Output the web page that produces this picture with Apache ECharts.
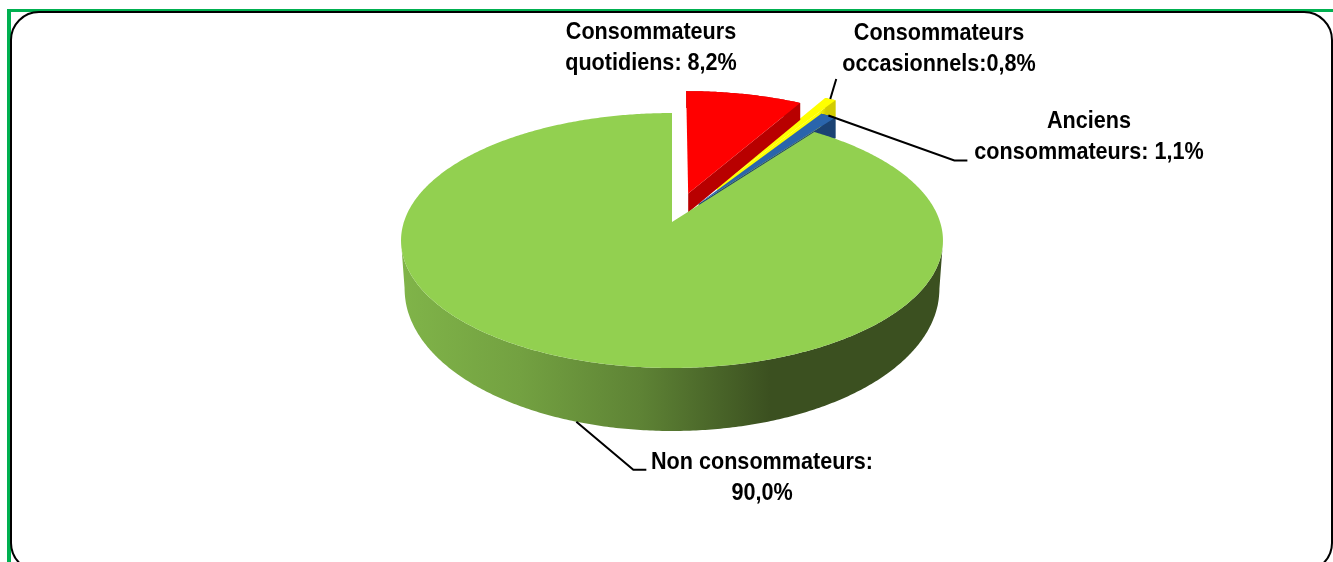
<!DOCTYPE html>
<html><head><meta charset="utf-8">
<style>html,body{margin:0;padding:0;background:#fff}#c{width:1333px;height:562px}</style>
<script src="https://cdn.jsdelivr.net/npm/echarts@6/dist/echarts.min.js"></script>
</head><body><div id="c"></div>
<script>
// --- data, clockwise from 12 o'clock
const categories = ['Consommateurs quotidiens', 'Consommateurs occasionnels', 'Anciens consommateurs', 'Non consommateurs'];
const values = [8.2, 0.8, 1.1, 90.0];
const labels = ['Consommateurs\nquotidiens: 8,2%', 'Consommateurs\noccasionnels:0,8%', 'Anciens\nconsommateurs: 1,1%', 'Non consommateurs:\n90,0%'];

// --- style & layout
const topColors = ['#FF0000', '#FFFF00', '#2A65AC', '#92D050'];
const wallColors = ['#B80000', '#D2CC00', '#1B4273', null];
const radialWallColors = ['#B80000', {type: 'linear', x: 0, y: 0, x2: 1, y2: 0, colorStops: [
  {offset: 0, color: '#FFFF00'}, {offset: 0.86, color: '#FFFF00'}, {offset: 0.92, color: '#D2CC00'}, {offset: 1, color: '#D2CC00'}]}, '#1B4273', null];
const explode = [0.245, 0.34, 0.18, 0];
const drawOrder = [2, 0, 1, 3];
const labelPos = [[651, 48], [939, 49], [1089, 137], [762, 478]];
const leaderOffsets = [null, [[6, -20]], [[126, 45], [139, 45]], [[57, 48], [70, 48]]];
const view = {cx: 672, cy: 222, A: 268.1, B: 124.8, p: 0.1451};
const apexDrop = 19;
const dropStops = [[-1, 63], [-0.25, 50], [0.6, 24], [0.805, 21], [0.87, 17], [1.2, 17]];
const baseShrink = 0.987;

function dropAt(c) {
  for (let i = 1; i < dropStops.length; i++) {
    if (c <= dropStops[i][0]) {
      const [a, b] = [dropStops[i - 1], dropStops[i]];
      return b[1] + (a[1] - b[1]) * (b[0] - c) / (b[0] - a[0]);
    }
  }
  return dropStops[dropStops.length - 1][1];
}
function project(X, Y) {
  const w = 1 + view.p * Y;
  return [view.cx + view.A * X / w, view.cy - view.B * Y / w];
}
const total = values.reduce((s, v) => s + v, 0);

function renderItem(params, api) {
  const i = params.dataIndex;
  const before = values.slice(0, i).reduce((s, v) => s + v, 0);
  const start = before / total * 2 * Math.PI;
  const sweep = api.value(0) / total * 2 * Math.PI;
  const end = start + sweep, mid = start + sweep / 2;
  const ox = explode[i] * Math.sin(mid), oy = explode[i] * Math.cos(mid);
  const rim = a => project(ox + Math.sin(a), oy + Math.cos(a));
  const apex = project(ox, oy);
  const down = (pt, d) => [pt[0], pt[1] + d];
  const rimDown = a => {
    const p = rim(a);
    const x = wallColors[i] ? p[0] : view.cx + (p[0] - view.cx) * baseShrink;
    return [x, p[1] + dropAt(Math.cos(a))];
  };
  const apexDown = down(apex, apexDrop);
  const steps = Math.max(6, Math.ceil(sweep / 0.01));
  const arc = [];
  for (let k = 0; k <= steps; k++) arc.push(start + sweep * k / steps);

  const z = drawOrder[i] * 10;
  const kids = [];
  const poly = (points, fill, dz) => kids.push({type: 'polygon', shape: {points}, style: {fill, stroke: null}, z2: z + dz, silent: true});

  if (wallColors[i]) {
    // radial wall on the clockwise side + outer wall
    poly(arc.map(rim).concat(arc.map(rimDown).reverse()), wallColors[i], 0);
    poly([apex, rim(end), rimDown(end), apexDown], radialWallColors[i], 0);
  } else {
    // outer wall between the two widest points of the projected rim
    const widest = Math.acos(-view.p);
    const wallArc = arc.filter(a => a >= widest && a <= 2 * Math.PI - widest);
    const pts = wallArc.map(rim).concat(wallArc.map(rimDown).reverse());
    const xs = pts.map(p => p[0]);
    const x0 = Math.min(...xs), x1 = Math.max(...xs);
    const st = x => (x - x0) / (x1 - x0);
    poly(pts, {type: 'linear', x: 0, y: 0, x2: 1, y2: 0, colorStops: [
      {offset: 0, color: '#80B449'},
      {offset: st(520), color: '#73A141'},
      {offset: st(640), color: '#5E8335'},
      {offset: st(770), color: '#3B5020'},
      {offset: 1, color: '#3B5020'}
    ]}, 0);
  }
  poly([apex].concat(arc.map(rim)), topColors[i], 1);

  // leader line, starting from the slice's mid-angle on its rim
  if (leaderOffsets[i]) {
    const s = wallColors[i] ? rim(mid) : rimDown(mid);
    const pts = [s].concat(leaderOffsets[i].map(o => [s[0] + o[0], s[1] + o[1]]));
    kids.push({type: 'polyline', shape: {points: pts}, style: {stroke: '#000', lineWidth: 2, fill: null}, z2: 100, silent: true});
  }
  kids.push({type: 'text', x: labelPos[i][0], y: labelPos[i][1], scaleX: 0.9, z2: 101, silent: true,
    style: {text: labels[i], x: 0, y: 0, align: 'center', verticalAlign: 'middle', fill: '#000',
      font: 'bold 24px "Liberation Sans", Arial, sans-serif', lineHeight: 31}});
  return {type: 'group', children: kids};
}

const chart = echarts.init(document.getElementById('c'), null, {renderer: 'canvas'});
chart.setOption({
  animation: false,
  backgroundColor: '#fff',
  graphic: [
    {type: 'rect', shape: {x: 7, y: 9, width: 1326, height: 3}, style: {fill: '#00B050'}, z: 0},
    {type: 'rect', shape: {x: 7, y: 9, width: 4, height: 553}, style: {fill: '#00B050'}, z: 0},
    {type: 'rect', shape: {x: 11, y: 12, width: 1321, height: 559, r: 28}, style: {fill: '#fff', stroke: '#000', lineWidth: 2}, z: 1}
  ],
  series: [{
    type: 'custom', coordinateSystem: 'none', z: 5, silent: true,
    renderItem,
    data: values.map((v, i) => ({name: categories[i], value: [v]}))
  }]
});
</script></body></html>
